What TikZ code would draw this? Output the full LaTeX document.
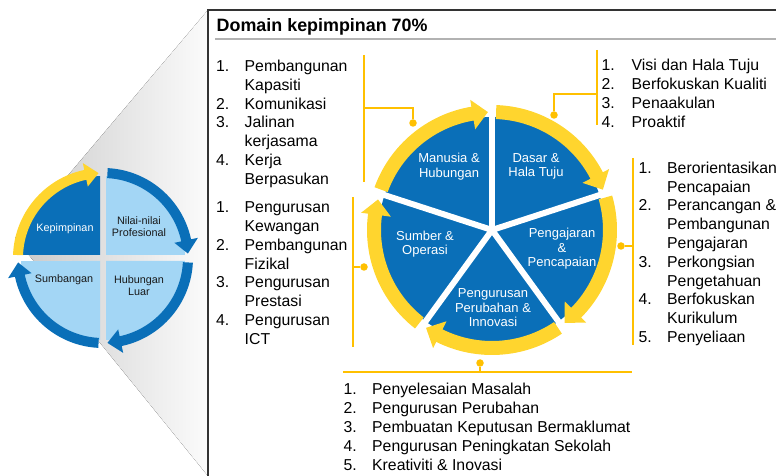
\documentclass[tikz,border=0pt]{standalone}
\usepackage{fontspec}
\setmainfont{Liberation Sans}
\usepackage{array}
\definecolor{pieblue}{HTML}{0A6FB8}
\definecolor{lightblue}{HTML}{A3D6F5}
\definecolor{ringyellow}{HTML}{FFD52E}
\definecolor{brk}{HTML}{FFC000}
\newcommand{\ringarrow}[8]{%
  \pgfmathsetmacro\rabase{#3+#8}%
  \pgfmathsetmacro\ramid{(#4+#5)/2}%
  \fill[#1] (#2:#5) arc[start angle=#2, end angle=\rabase, radius=#5]
    -- (\rabase:#7) -- (#3:\ramid) -- (\rabase:#6) -- (\rabase:#4)
    arc[start angle=\rabase, end angle=#2, radius=#4] -- cycle;}
\begin{document}
\begin{tikzpicture}[x=1pt,y=1pt,
  listtext/.style={anchor=base west, inner sep=0pt, font=\fontsize{15.8}{18.8}\selectfont},
  smalllabel/.style={align=center, inner sep=0pt, text=black!90, font=\fontsize{10.8}{12.6}\selectfont},
  pielabel/.style={align=center, inner sep=0pt, text=white, font=\fontsize{13}{14.5}\selectfont},
  brkline/.style={draw=brk, line width=1.5},
  dot/.style={circle, fill=brk, inner sep=0pt, minimum size=7.5},
  divider/.style={white, line width=6}]
\useasboundingbox (0,0) rectangle (776,476);
% gray wedge
\fill[left color=gray!42, right color=gray!3] (15,238) -- (208,466) -- (208,0) -- cycle;
% small circle
\begin{scope}[shift={(103,218)}]
  \fill[pieblue] (-3,3) -- (-3,81.95) arc[start angle=92.1, end angle=177.9, radius=82] -- cycle;
  \fill[lightblue] (3,3) -- (3,81.95) arc[start angle=87.9, end angle=2.1, radius=82] -- cycle;
  \fill[lightblue] (3,-3) -- (81.95,-3) arc[start angle=-2.1, end angle=-87.9, radius=82] -- cycle;
  \fill[lightblue] (-3,-3) -- (-3,-81.95) arc[start angle=-92.1, end angle=-177.9, radius=82] -- cycle;
  \ringarrow{ringyellow}{178}{93}{80}{90}{73}{97}{9}
  \ringarrow{pieblue}{87}{3}{80}{90}{73}{97}{9}
  \ringarrow{pieblue}{-3}{-87}{80}{90}{73}{97}{9}
  \ringarrow{pieblue}{-93}{-177}{80}{90}{73}{97}{9}
\end{scope}
\node[smalllabel, text=white] (kep) at (65,247) {Kepimpinan};
\node[smalllabel] (nil) at (139,249.3) {Nilai-nilai\\Profesional};
\node[smalllabel] (sum) at (64,196) {Sumbangan};
\node[smalllabel] (hub) at (139,190.5) {Hubungan\\Luar};
% box
\draw[black!80, line width=1.3] (208,-2) -- (208,466) -- (780,466);
\draw[gray!60, line width=1.6] (215,437) -- (780,437);
\node[anchor=base west, inner sep=0pt, font=\fontsize{17.9}{20}\selectfont\bfseries] (title) at (216.5,444.3) {Domain kepimpinan 70\%};
% big pie
\begin{scope}[shift={(492,246)}]
  \fill[pieblue] (0,0) circle[radius=113];
  \ringarrow{ringyellow}{160}{92}{111}{125}{102}{132}{7.5}
  \ringarrow{ringyellow}{88}{20}{111}{125}{102}{132}{7.5}
  \ringarrow{ringyellow}{16}{-52}{111}{125}{102}{132}{7.5}
  \ringarrow{ringyellow}{-56}{-124}{111}{125}{102}{132}{7.5}
  \ringarrow{ringyellow}{-128}{-195}{111}{125}{102}{132}{7.5}
  \foreach \a in {90,18,-54,-126,162} \draw[divider] (0,0) -- (\a:124);
\end{scope}
\node[pielabel] (man) at (449,309.5) {Manusia \&\\Hubungan};
\node[pielabel] (das) at (536,309.5) {Dasar \&\\Hala Tuju};
\node[pielabel] (pen) at (562,227) {Pengajaran\\\&\\Pencapaian};
\node[pielabel] (per) at (493,168) {Pengurusan\\Perubahan \&\\Innovasi};
\node[pielabel] (sub) at (425,232) {Sumber \&\\Operasi};
% brackets
\node[dot] (d1) at (413,353) {};
\node[dot] (d2) at (554,361) {};
\node[dot] (d3) at (621,230) {};
\node[dot] (d4) at (364,209) {};
\node[dot] (d5) at (480,113) {};
\coordinate (b1t) at (364,421); \coordinate (b1b) at (364,294); \coordinate (b1m) at (364,368);
\coordinate (b2t) at (597,426); \coordinate (b2b) at (597,351); \coordinate (b2m) at (597,382);
\coordinate (b3t) at (633,318); \coordinate (b3b) at (633,131); \coordinate (b3m) at (633,230);
\coordinate (b4t) at (353,279); \coordinate (b4b) at (353,129); \coordinate (b4m) at (353,209);
\coordinate (b5l) at (343,104); \coordinate (b5r) at (632,104); \coordinate (b5m) at (480,104);
\draw[brkline] (b1t) -- (b1b); \draw[brkline] (b1m) -| (d1);
\draw[brkline] (b2t) -- (b2b); \draw[brkline] (b2m) -| (d2);
\draw[brkline] (b3t) -- (b3b); \draw[brkline] (b3m) -- (d3);
\draw[brkline] (b4t) -- (b4b); \draw[brkline] (b4m) -- (d4);
\draw[brkline] (b5l) -- (b5r); \draw[brkline] (b5m) -- (d5);
% lists
\node[listtext] (l1) at (216,404.5) {\begin{tabular}[t]{@{}p{28.5pt}@{}l@{}}
1. & Pembangunan\\ & Kapasiti\\ 2. & Komunikasi\\ 3. & Jalinan\\ & kerjasama\\ 4. & Kerja\\ & Berpasukan\end{tabular}};
\node[listtext] (l2) at (601.5,405.3) {\begin{tabular}[t]{@{}p{30pt}@{}l@{}}
1. & Visi dan Hala Tuju\\ 2. & Berfokuskan Kualiti\\ 3. & Penaakulan\\ 4. & Proaktif\end{tabular}};
\node[listtext] (l3) at (638.5,302.7) {\begin{tabular}[t]{@{}p{28.5pt}@{}l@{}}
1. & Berorientasikan\\ & Pencapaian\\ 2. & Perancangan \&\\ & Pembangunan\\ & Pengajaran\\ 3. & Perkongsian\\ & Pengetahuan\\ 4. & Berfokuskan\\ & Kurikulum\\ 5. & Penyeliaan\end{tabular}};
\node[listtext] (l4) at (216,263.3) {\begin{tabular}[t]{@{}p{28.5pt}@{}l@{}}
1. & Pengurusan\\ & Kewangan\\ 2. & Pembangunan\\ & Fizikal\\ 3. & Pengurusan\\ & Prestasi\\ 4. & Pengurusan\\ & ICT\end{tabular}};
\node[listtext] (l5) at (343.5,81) {\begin{tabular}[t]{@{}p{28.5pt}@{}l@{}}
1. & Penyelesaian Masalah\\ 2. & Pengurusan Perubahan\\ 3. & Pembuatan Keputusan Bermaklumat\\ 4. & Pengurusan Peningkatan Sekolah\\ 5. & Kreativiti \& Inovasi\end{tabular}};
\end{tikzpicture}
\end{document}
